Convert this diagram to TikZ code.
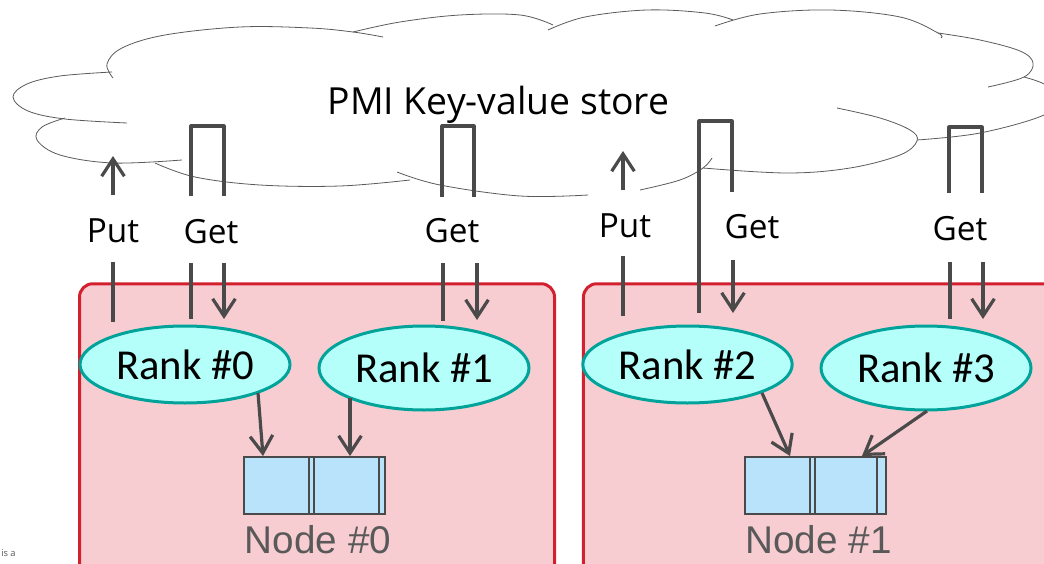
\documentclass[tikz,border=0pt]{standalone}
\usepackage{fontspec}
\setmainfont{Open Sans}
\newfontfamily\rankfont{Carlito}
\newfontfamily\arrfont{Liberation Sans}
\usetikzlibrary{shapes.geometric,arrows.meta}
\definecolor{conn}{HTML}{4A4A4A}
\definecolor{cloudgray}{HTML}{5A5A5A}
\definecolor{boxfill}{HTML}{F7CDD2}
\definecolor{boxline}{HTML}{D2202F}
\definecolor{rankfill}{HTML}{B5FFFB}
\definecolor{rankline}{HTML}{00A39A}
\definecolor{arrfill}{HTML}{B9E2FB}
\definecolor{lblgray}{HTML}{595959}
\begin{document}
\begin{tikzpicture}[x=0.75pt,y=-0.75pt,
  cloudline/.style={draw=cloudgray, line width=0.6pt},
  conline/.style={draw=conn, line width=2.4pt, line join=round},
  arrowline/.style={conline, -{Straight Barb[length=13pt,width=17pt]}},
  nodebox/.style={draw=boxline, fill=boxfill, line width=2.25pt, rounded corners=10pt, inner sep=0pt},
  rank/.style={ellipse, draw=rankline, fill=rankfill, line width=2.25pt, inner sep=0pt,
    font=\rankfont\fontsize{32}{32}\selectfont, text=black},
  arr/.style={draw=conn, fill=arrfill, line width=1.8pt, inner sep=0pt,
    minimum width=105.75pt, minimum height=42.75pt},
  arrdiv/.style={draw=conn, line width=1.8pt},
  arrlbl/.style={font=\arrfont\fontsize{29}{29}\selectfont, text=lblgray, anchor=base, inner sep=0pt},
  oplbl/.style={font=\fontsize{25}{25}\selectfont, text=black, anchor=base, inner sep=0pt},
  title/.style={font=\fontsize{28}{28}\selectfont, text=black, anchor=base, inner sep=0pt}
]
\useasboundingbox (0,0) rectangle (1044,563);
\clip (0,0) rectangle (1044,563);

% ---- cloud ----
\draw[cloudline] plot[smooth,tension=0.6] coordinates {(127,123) (65,119) (28,111) (13,97) (27,84) (60,76) (112,72)};
\draw[cloudline] plot[smooth,tension=0.6] coordinates {(113,78) (107,64) (122,48) (165,35) (240,27) (310,28) (353,32) (383,37)};
\draw[cloudline] plot[smooth,tension=0.6] coordinates {(353,32) (400,22) (460,15) (520,15) (553,25)};
\draw[cloudline] plot[smooth,tension=0.6] coordinates {(548,30) (585,17) (647,10) (705,13) (733,20)};
\draw[cloudline] plot[smooth,tension=0.6] coordinates {(715,26) (760,14) (830,10) (900,17) (938,33) (941,38)};
\draw[cloudline] plot[smooth,tension=0.6] coordinates {(938,33) (980,40) (1020,51) (1033,63) (1024,77) (988,87)};
\draw[cloudline] plot[smooth,tension=0.6] coordinates {(1024,77) (1044,84) (1060,97) (1044,115) (980,133) (917,140)};
\draw[cloudline] plot[smooth,tension=0.6] coordinates {(837,108) (880,118) (910,130) (917,141) (900,155) (850,168) (787,173) (703,168)};
\draw[cloudline] plot[smooth,tension=0.6] coordinates {(640,190) (680,180) (703,168) (712,158)};
\draw[cloudline] plot[smooth,tension=0.6] coordinates {(397,172) (440,185) (520,196) (588,195)};
\draw[cloudline] plot[smooth,tension=0.6] coordinates {(155,163) (195,177) (260,185) (340,186) (410,180)};
\draw[cloudline] plot[smooth,tension=0.6] coordinates {(65,118) (42,127) (37,140) (60,155) (113,163) (182,160)};

\node[title] (store) at (498.5,115) {PMI Key-value store};

% ---- node boxes ----
\node[nodebox, minimum width=356.25pt, minimum height=252pt] (box0) at (317,451.75) {};
\node[nodebox, minimum width=387.4pt, minimum height=252pt] (box1) at (841.75,451.75) {};

% ---- ranks ----
\node[rank, minimum width=157.5pt, minimum height=57.75pt] (rank0) at (185,364.5) {Rank \#0};
\node[rank, minimum width=157.5pt, minimum height=63pt] (rank1) at (424,368) {Rank \#1};
\node[rank, minimum width=157pt, minimum height=57.75pt] (rank2) at (687.5,364.5) {Rank \#2};
\node[rank, minimum width=157.5pt, minimum height=63pt] (rank3) at (926,368) {Rank \#3};

% ---- labels ----
\node[oplbl] (put0) at (113,242) {Put};
\node[oplbl] (get0) at (211,243) {Get};
\node[oplbl] (get1) at (452,242) {Get};
\node[oplbl] (put1) at (625,237) {Put};
\node[oplbl] (get2) at (752,238) {Get};
\node[oplbl] (get3) at (960,240) {Get};

% ---- coordinates of connector ends ----
\coordinate (p0top) at (113,156); \coordinate (p0up) at (113,195);
\coordinate (p0lo) at (113,262);  \coordinate (p0bot) at (113,322);
\coordinate (g0a) at (191,196); \coordinate (g0b) at (191,126); \coordinate (g0c) at (224,126); \coordinate (g0d) at (224,196);
\coordinate (g0e) at (191,263); \coordinate (g0f) at (191,319);
\coordinate (g0g) at (224,263); \coordinate (g0h) at (224,319);
\coordinate (g1a) at (442,197); \coordinate (g1b) at (442,126); \coordinate (g1c) at (474,126); \coordinate (g1d) at (474,197);
\coordinate (g1e) at (443,263); \coordinate (g1f) at (443,321);
\coordinate (g1g) at (477,263); \coordinate (g1h) at (477,320);
\coordinate (p1top) at (623,151); \coordinate (p1up) at (623,190);
\coordinate (p1lo) at (623,256); \coordinate (p1bot) at (623,316);
\coordinate (g2a) at (699,313); \coordinate (g2b) at (699,121); \coordinate (g2c) at (732,121); \coordinate (g2d) at (732,192);
\coordinate (g2g) at (733,260); \coordinate (g2h) at (733,313);
\coordinate (g3a) at (949,193); \coordinate (g3b) at (949,127); \coordinate (g3c) at (982,127); \coordinate (g3d) at (982,193);
\coordinate (g3e) at (950,262); \coordinate (g3f) at (950,319);
\coordinate (g3g) at (983,262); \coordinate (g3h) at (983,319);

% ---- Put / Get connectors ----
\draw[arrowline] (p0up) -- (p0top);
\draw[conline] (p0lo) -- (p0bot);
\draw[conline] (g0a) -- (g0b) -- (g0c) -- (g0d);
\draw[conline] (g0e) -- (g0f);
\draw[arrowline] (g0g) -- (g0h);
\draw[conline] (g1a) -- (g1b) -- (g1c) -- (g1d);
\draw[conline] (g1e) -- (g1f);
\draw[arrowline] (g1g) -- (g1h);
\draw[arrowline] (p1up) -- (p1top);
\draw[conline] (p1lo) -- (p1bot);
\draw[conline] (g2a) -- (g2b) -- (g2c) -- (g2d);
\draw[arrowline] (g2g) -- (g2h);
\draw[conline] (g3a) -- (g3b) -- (g3c) -- (g3d);
\draw[conline] (g3e) -- (g3f);
\draw[arrowline] (g3g) -- (g3h);

% ---- arrays ----
\node[arr] (arr0) at (314.5,485.5) {};
\draw[arrdiv] (309,457) -- (309,514);
\draw[arrdiv] (314,457) -- (314,514);
\draw[arrdiv] (379,457) -- (379,514);
\node[arr] (arr1) at (815.5,485.5) {};
\draw[arrdiv] (810,457) -- (810,514);
\draw[arrdiv] (815,457) -- (815,514);
\draw[arrdiv] (877,457) -- (877,514);

\coordinate (a0in) at (263,456);
\coordinate (a0in2) at (350,456);
\coordinate (a1in) at (790,456);
\coordinate (a1in2) at (862,456);
\coordinate (r0out) at (258,393);
\coordinate (r1out) at (350,398);
\coordinate (r2out) at (762,393);
\coordinate (r3out) at (927,411);

\draw[arrowline] (r0out) -- (a0in);
\draw[arrowline] (r1out) -- (a0in2);
\draw[arrowline] (r2out) -- (a1in);
\draw[arrowline] (r3out) -- (a1in2);

\node[arrlbl] (n0) at (318,553) {Node \#0};
\node[arrlbl] (n1) at (818.5,553) {Node \#1};

\node[font=\fontsize{7}{7}\selectfont, text=lblgray, anchor=base west, inner sep=0pt] (frag) at (1,556) {is a};
\end{tikzpicture}
\end{document}
